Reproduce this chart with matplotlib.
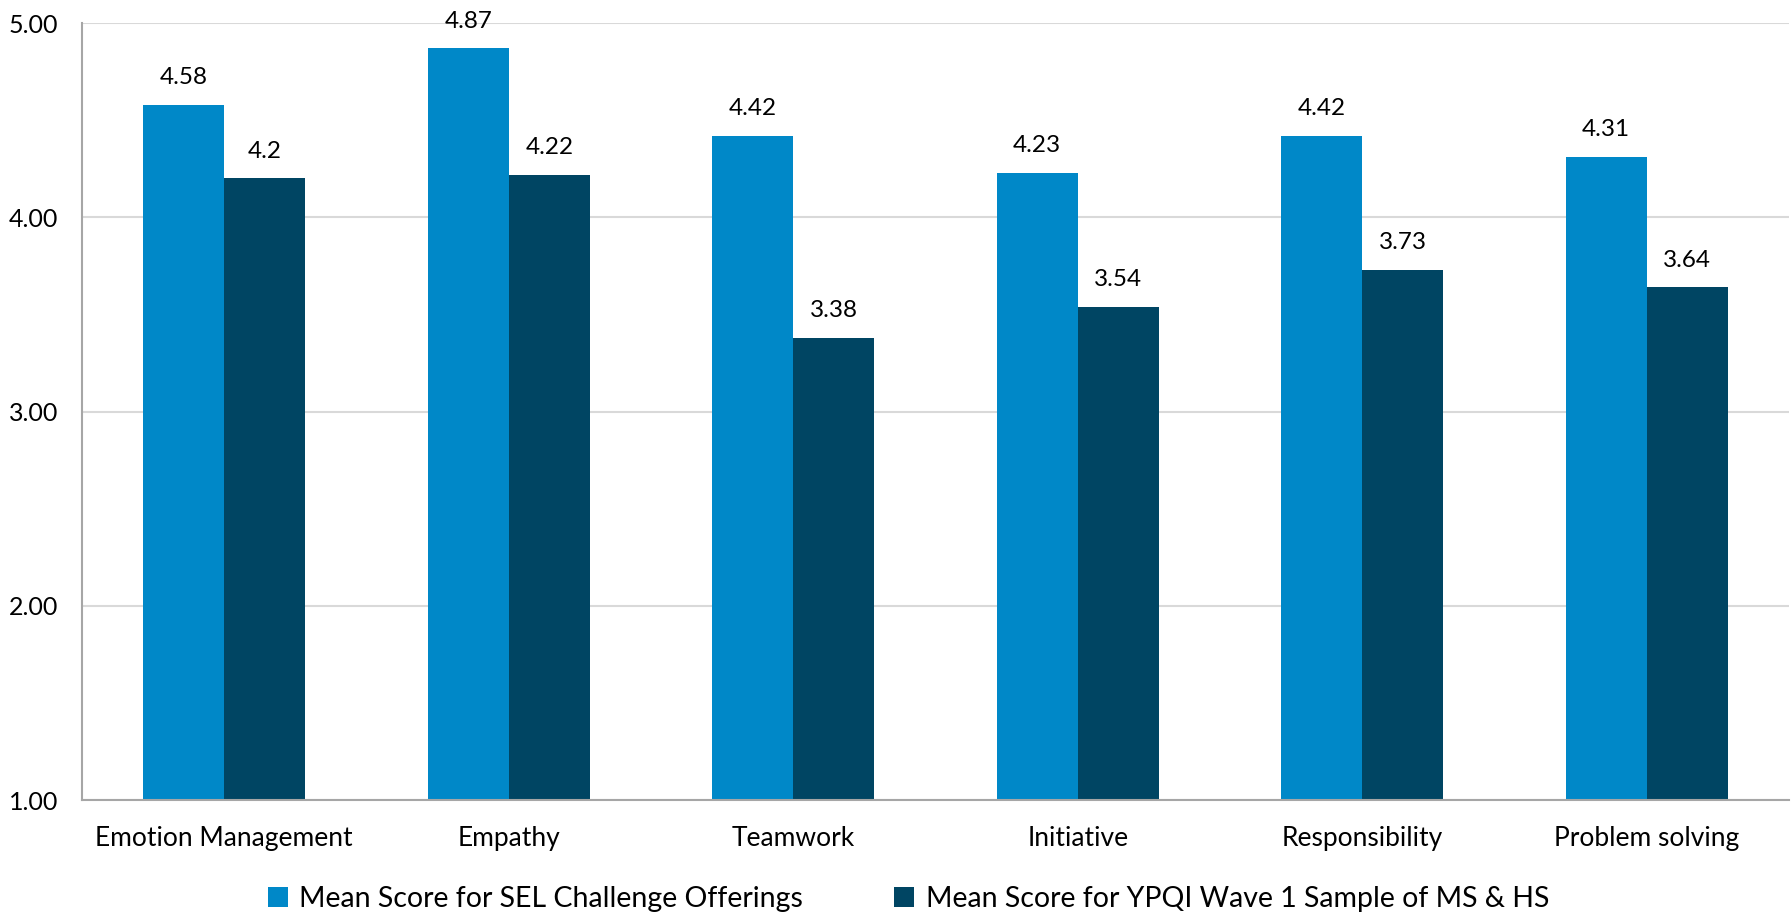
import matplotlib.pyplot as plt
import numpy as np

categories = ["Emotion Management", "Empathy", "Teamwork", "Initiative",
              "Responsibility", "Problem solving"]
sel_scores = [4.58, 4.87, 4.42, 4.23, 4.42, 4.31]
ypqi_scores = [4.2, 4.22, 3.38, 3.54, 3.73, 3.64]
series_names = ["Mean Score for SEL Challenge Offerings",
                "Mean Score for YPQI Wave 1 Sample of MS & HS"]
yticks = [1.0, 2.0, 3.0, 4.0, 5.0]

plt.rcParams['font.family'] = ['Lato', 'DejaVu Sans']

W, H = 1792, 913
fig = plt.figure(figsize=(W / 100, H / 100), dpi=100)
ax = fig.add_axes([82 / W, 1 - 800 / H, (1789 - 82) / W, (800 - 23) / H])

x = np.arange(len(categories))
width = 0.285
b1 = ax.bar(x - width / 2, [v - 1 for v in sel_scores], width, bottom=1,
            color="#0088C8", label=series_names[0], zorder=2)
b2 = ax.bar(x + width / 2, [v - 1 for v in ypqi_scores], width, bottom=1,
            color="#004563", label=series_names[1], zorder=2)

# value labels above each bar
for bars, vals in ((b1, sel_scores), (b2, ypqi_scores)):
    for rect, v in zip(bars, vals):
        ax.annotate(f"{v:g}", (rect.get_x() + rect.get_width() / 2, v),
                    xytext=(0, 12), textcoords="offset points",
                    ha="center", va="bottom", fontsize=17.5, color="#000000")

ax.set_xlim(-0.5, len(categories) - 0.5)
ax.set_ylim(1, 5)
ax.set_yticks(yticks)
ax.set_yticklabels([f"{t:.2f}" for t in yticks], fontsize=18)
ax.set_xticks(x)
ax.set_xticklabels(categories, fontsize=19)
ax.tick_params(axis="both", length=0)
ax.tick_params(axis="x", pad=19)
ax.tick_params(axis="y", pad=17)
ax.grid(axis="y", color="#D9D9D9", linewidth=1.5, zorder=0)
for s in ("top", "right"):
    ax.spines[s].set_visible(False)
for s in ("left", "bottom"):
    ax.spines[s].set_color("#A6A6A6")
    ax.spines[s].set_linewidth(1.5)

fig.legend(handles=[b1, b2], loc="center", bbox_to_anchor=(0.507, 1 - 899 / H),
           ncol=2, frameon=False, fontsize=20.5, handlelength=0.7,
           handleheight=0.7, handletextpad=0.4, columnspacing=3.2)

fig.savefig("out.png", dpi=100)
